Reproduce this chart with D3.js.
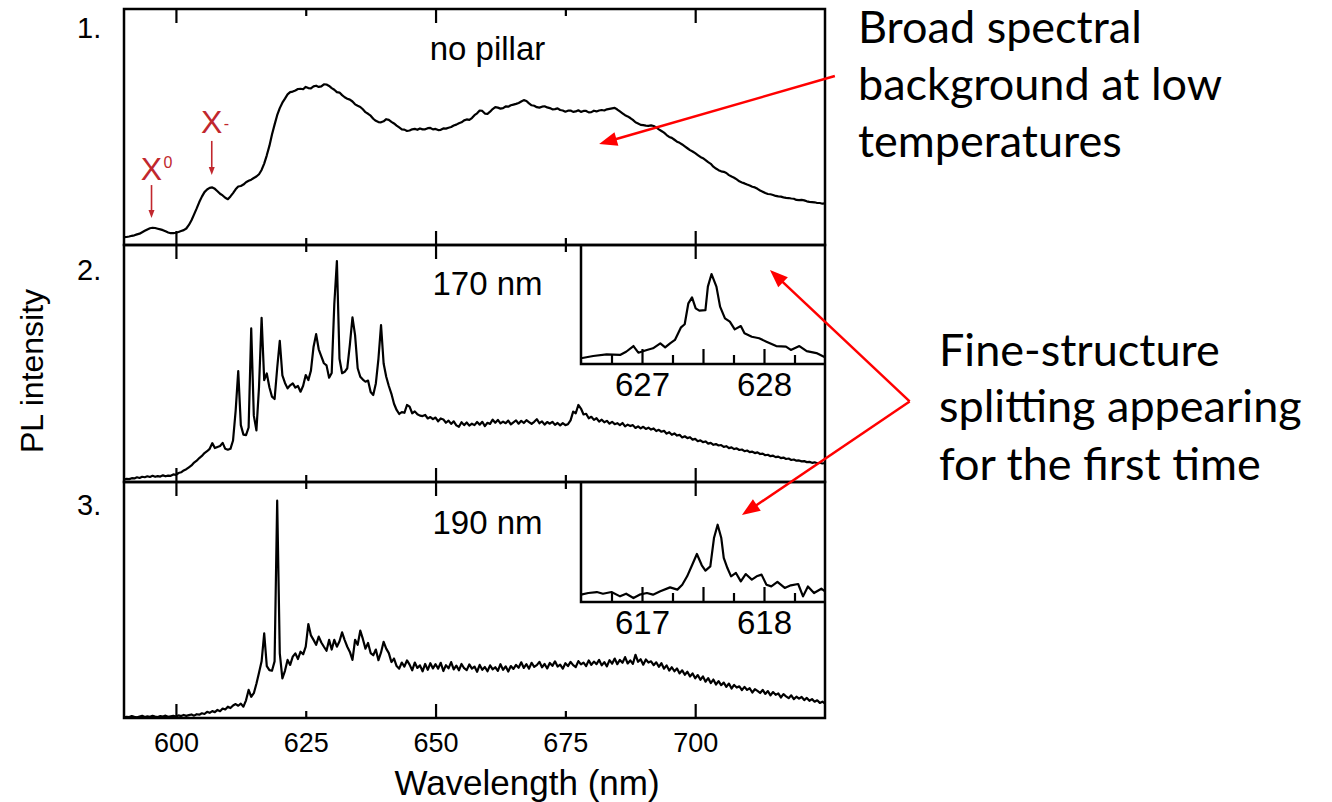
<!DOCTYPE html>
<html>
<head>
<meta charset="utf-8">
<script src="https://cdn.jsdelivr.net/npm/d3@7"></script>
<style>
  body { margin: 0; background: #fff; }
  svg { display: block; }
  .sans { font-family: "Liberation Sans", Arial, Helvetica, sans-serif; }
  .cal { font-family: Lato, "Open Sans", sans-serif; }
</style>
</head>
<body>
<svg id="chart" width="1332" height="802"></svg>
<script>
// ---------------- DATA ----------------
const panelLabels = ["1.", "2.", "3."];
const panelTitles = ["no pillar", "170 nm", "190 nm"];
const xTickLabels = [600, 625, 650, 675, 700];
const xTicksMajor = [600, 650, 700];
const xTicksMinor = [625, 675];
const wlStart = 590;
const wlEnd = 725;
const wlStep = 0.5;

// panel 1: no pillar (0.5 nm sampling, 590..725)
const pl1 = [
  3.3,3.4,3.6,3.9,4.1,4.5,4.8,5.4,6.0,6.6,
  7.1,7.3,7.2,6.9,6.6,6.3,5.8,5.3,5.0,5.0,
  5.2,5.5,5.9,6.3,7.0,8.5,10.5,13.0,15.5,18.2,
  20.5,22.4,23.5,24.2,24.4,23.8,22.8,21.7,21.0,20.0,
  19.4,20.6,22.0,23.6,24.8,25.0,25.6,26.6,27.2,27.7,
  28.4,29.0,30.0,31.8,34.5,38.0,42.0,46.8,51.0,55.0,
  58.0,60.3,62.0,63.8,64.8,65.0,65.5,66.1,66.2,66.0,
  67.0,66.5,66.4,67.2,67.5,67.0,67.2,68.1,68.0,67.4,
  66.5,65.8,64.8,64.6,63.5,62.6,62.0,61.6,60.8,59.6,
  59.0,58.5,57.5,56.3,55.6,54.8,53.5,52.6,52.1,52.0,
  52.4,53.3,53.0,52.2,51.5,50.6,49.8,49.0,48.9,48.3,
  48.5,49.0,49.2,48.8,49.4,49.0,49.0,49.5,49.6,49.0,
  49.2,48.7,48.8,49.4,49.3,49.7,50.0,50.6,51.0,51.6,
  52.0,52.8,53.2,53.0,53.8,55.0,55.8,57.0,56.8,55.7,
  55.6,56.5,57.6,58.4,58.2,57.8,58.0,58.7,58.6,59.2,
  59.5,59.8,60.2,60.8,61.4,61.0,60.0,59.2,59.0,58.4,
  58.2,58.6,58.8,58.3,58.0,57.5,57.6,57.9,57.2,57.0,
  56.5,56.9,57.0,56.4,56.6,57.1,56.4,56.8,56.8,56.2,
  56.3,56.9,56.6,57.0,57.2,57.0,57.5,57.7,57.9,58.1,
  57.4,56.6,55.8,55.0,54.5,53.8,53.0,52.0,51.5,50.9,
  50.8,50.6,50.5,50.7,50.4,49.8,49.0,48.3,47.6,46.6,
  45.8,45.4,44.6,43.8,43.3,42.6,41.8,41.0,40.2,39.6,
  38.9,38.1,37.3,36.8,36.0,35.1,34.4,33.2,32.4,31.7,
  31.2,31.0,30.5,29.6,29.0,28.5,27.8,27.0,26.5,26.1,
  25.6,25.2,24.7,24.4,23.8,23.1,22.6,22.0,21.6,21.5,
  21.2,20.8,20.6,20.5,20.2,20.0,19.9,19.7,19.6,19.1,
  19.0,19.1,18.9,18.5,18.3,18.2,18.1,17.8,17.8,17.5,
  17.6
];

// panel 2: 170 nm (0.5 nm sampling, 590..725)
const pl2 = [
  1.0,1.3,1.2,1.6,1.5,2.0,1.7,2.2,2.0,2.4,
  2.1,2.6,2.2,2.5,2.3,2.8,2.4,2.7,2.6,3.2,
  3.0,3.8,4.1,4.9,5.4,6.2,7.0,8.2,9.0,10.1,
  11.0,12.2,13.0,14.0,16.4,14.3,14.8,15.2,16.5,14.0,
  13.6,14.0,17.5,30.0,46.8,24.0,20.0,19.8,23.0,64.8,
  28.0,21.8,40.0,69.3,43.0,45.8,40.0,36.0,35.0,48.0,
  59.6,45.0,41.8,39.5,40.8,41.6,39.8,40.5,38.1,40.6,
  45.1,43.0,47.0,57.0,62.4,56.0,53.0,50.1,49.2,44.0,
  46.0,75.0,93.2,52.0,45.9,46.5,48.0,58.0,69.5,62.0,
  48.0,44.4,43.2,42.3,42.8,38.0,36.7,41.6,52.0,66.2,
  50.0,44.4,40.5,37.2,33.0,30.4,28.7,29.5,29.2,32.5,
  31.8,29.0,29.8,28.6,28.0,27.8,28.3,26.8,27.4,26.5,
  27.2,25.6,26.8,26.4,25.0,25.9,24.5,25.6,23.9,23.3,
  25.2,24.0,25.1,23.8,24.6,24.0,25.3,24.2,25.4,23.6,
  25.0,24.5,26.3,25.0,26.2,24.7,25.5,24.8,25.9,24.3,
  25.2,26.0,24.6,25.8,24.9,26.1,25.3,24.5,25.4,26.5,
  24.8,25.6,24.2,25.3,24.6,25.4,24.1,24.9,23.9,24.8,
  24.0,24.4,26.0,29.7,29.0,32.5,31.0,28.5,28.8,26.9,
  27.5,26.2,26.9,25.5,26.3,25.2,25.8,24.6,25.4,24.4,
  24.8,24.0,24.9,23.5,24.2,23.6,24.0,22.8,23.5,22.6,
  23.3,22.4,22.9,22.1,22.6,21.5,22.0,21.2,21.6,20.4,
  21.0,19.9,20.5,19.6,19.9,18.8,19.3,18.5,18.9,17.9,
  18.2,17.2,17.6,16.8,17.1,16.2,16.5,15.7,16.0,15.4,
  15.6,14.8,15.1,14.3,14.6,13.9,14.2,13.5,13.7,13.0,
  13.3,12.6,12.8,12.2,12.5,11.8,12.0,11.3,11.5,10.9,
  11.1,10.5,10.7,10.1,10.3,9.7,9.9,9.3,9.5,9.0,
  9.1,8.7,8.8,8.4,8.5,8.1,8.3,7.9,8.1,7.8,
  8.0
];

// panel 3: 190 nm (0.5 nm sampling, 590..725)
const pl3 = [
  0.3,0.5,0.4,0.8,0.5,0.3,0.6,0.9,0.4,0.7,
  0.5,0.9,0.6,0.4,0.8,0.6,1.0,0.5,0.7,0.9,
  0.6,1.1,0.8,1.3,0.9,1.2,1.5,1.0,1.6,1.4,
  2.0,1.7,2.6,2.2,2.9,2.5,3.4,2.9,4.0,3.6,
  4.8,4.2,5.3,5.9,5.2,6.1,4.8,7.5,11.9,9.0,
  10.5,14.5,19.2,24.0,35.9,22.0,20.3,20.0,24.0,92.1,
  27.4,16.8,20.0,24.6,22.5,26.0,27.4,25.0,28.1,27.0,
  30.2,39.8,35.0,33.1,31.0,34.5,32.0,30.2,28.5,33.1,
  29.0,33.1,30.2,32.5,36.3,33.0,30.2,28.0,24.6,33.1,
  31.0,37.0,33.5,29.4,31.8,27.5,26.6,29.0,24.5,27.8,
  32.3,29.4,27.5,23.7,25.2,22.0,20.9,23.5,21.8,24.4,
  22.6,20.2,23.5,21.2,22.3,19.8,22.9,20.4,23.2,21.0,
  22.8,20.9,23.4,19.9,22.4,21.0,23.7,20.6,22.2,20.2,
  22.9,21.1,20.3,22.7,20.9,21.8,19.6,22.5,20.4,21.6,
  19.8,22.3,20.6,21.5,20.0,22.8,20.4,21.9,19.7,22.0,
  20.8,22.5,21.3,23.6,21.2,22.8,20.9,23.4,21.7,22.4,
  23.8,21.5,22.9,21.0,23.3,22.1,24.0,21.8,22.6,20.9,
  23.2,22.0,23.8,22.4,21.6,24.1,22.7,23.5,22.0,24.4,
  22.5,23.9,22.8,24.6,22.3,23.7,21.9,24.5,23.0,25.2,
  22.8,24.6,23.4,25.8,23.1,24.4,22.9,26.8,23.8,24.9,
  22.6,24.8,23.5,24.0,22.4,23.6,21.7,23.2,20.9,22.3,
  20.1,21.5,19.8,21.0,18.9,20.2,18.3,19.6,17.6,18.9,
  16.8,18.2,16.2,17.6,15.4,16.9,14.8,16.3,14.2,15.6,
  13.9,15.0,13.2,14.6,12.5,14.0,12.9,13.4,11.8,13.2,
  11.9,12.6,10.8,12.2,11.5,10.6,11.9,10.2,11.4,9.6,
  11.0,9.8,10.4,8.7,10.1,9.2,8.4,9.6,8.0,9.0,
  8.2,8.9,7.6,8.5,7.3,8.0,6.9,7.5,6.4,6.9,
  6.1
];

// inset of panel 2 (626.5..628.5 nm)
const inset1Wl = [626.50,626.60,626.71,626.82,626.87,626.93,626.97,627.04,627.09,627.15,627.19,627.23,627.27,627.32,627.35,627.38,627.41,627.44,627.47,627.52,627.54,627.57,627.61,627.64,627.68,627.72,627.76,627.81,627.84,627.90,627.96,628.02,628.10,628.18,628.22,628.29,628.35,628.43,628.50];
const inset1Pl = [4.8,6.7,8.1,7.6,10.3,15.1,9.5,11.8,13.2,17.4,14.0,17.4,20.2,30.8,33.4,51.0,56.0,46.8,44.8,45.3,65.0,75.6,65.0,48.2,38.4,35.6,29.1,31.9,25.8,22.9,21.6,18.8,15.1,14.6,11.8,15.1,10.8,9.2,5.6];
const inset1TickLabels = [627, 628];
const inset1TicksMajor = [627, 627.5, 628];
const inset1TicksMinor = [626.75, 627.25, 627.75, 628.25];

// inset of panel 3 (616.5..618.5 nm)
const inset2Wl = [616.50,616.56,616.63,616.68,616.75,616.82,616.87,616.93,616.98,617.04,617.09,617.15,617.23,617.29,617.33,617.37,617.41,617.45,617.49,617.52,617.56,617.59,617.62,617.65,617.67,617.70,617.73,617.77,617.81,617.85,617.90,617.94,617.98,618.02,618.06,618.11,618.17,618.22,618.28,618.32,618.36,618.41,618.47,618.50];
const inset2Pl = [6.1,7.5,8.3,6.9,8.3,4.7,6.9,3.3,6.1,7.5,6.1,8.9,12.2,10.3,14.4,21.4,30.6,40.0,30.6,26.1,29.7,53.3,64.4,53.3,36.7,28.3,21.4,24.2,17.2,23.3,18.6,21.4,22.8,14.4,13.0,16.7,11.7,13.9,15.0,4.7,13.0,7.5,11.1,8.9];
const inset2TickLabels = [617, 618];
const inset2TicksMajor = [617, 617.5, 618];
const inset2TicksMinor = [616.75, 617.25, 617.75, 618.25];

const noteBroad = ["Broad spectral", "background at low", "temperatures"];
const noteFine = ["Fine-structure", "splitting appearing", "for the first time"];

// ---------------- LAYOUT ----------------
const svg = d3.select("#chart");
const PX0 = 124, PX1 = 825;
const panels = [
  { top: 9, bottom: 245 },
  { top: 245, bottom: 482 },
  { top: 482, bottom: 718 }
];
const x = d3.scaleLinear().domain([wlStart, wlEnd]).range([PX0, PX1]);
const ys = panels.map(p => d3.scaleLinear().domain([0, 100]).range([p.bottom, p.top]));

const grid = arr => arr.map((_, i) => wlStart + i * wlStep);
const series = [[grid(pl1), pl1], [grid(pl2), pl2], [grid(pl3), pl3]];

const RED = "#ff0000";
const DARKRED = "#c1272d";
const LW = 2.2;

function styleTicks(g, w) {
  g.select(".domain").remove();
  g.selectAll(".tick line").attr("stroke", "#000").attr("stroke-width", w);
}

// ticks for each panel (inside, top and bottom)
panels.forEach(p => {
  [[xTicksMajor, 14], [xTicksMinor, 7]].forEach(([vals, len]) => {
    svg.append("g").attr("transform", `translate(0,${p.bottom})`)
      .call(d3.axisBottom(x).tickValues(vals).tickSize(-len).tickFormat(() => ""))
      .call(g => styleTicks(g, 2.2));
    svg.append("g").attr("transform", `translate(0,${p.top})`)
      .call(d3.axisTop(x).tickValues(vals).tickSize(-len).tickFormat(() => ""))
      .call(g => styleTicks(g, 2.2));
  });
});

// curves
series.forEach(([wl, pl], i) => {
  const line = d3.line().x(d => x(d[0])).y(d => ys[i](d[1]));
  svg.append("path").datum(d3.zip(wl, pl))
    .attr("d", line).attr("fill", "none").attr("stroke", "#000")
    .attr("stroke-width", LW).attr("stroke-linejoin", "round");
});

// frames
panels.forEach(p => {
  svg.append("rect").attr("x", PX0).attr("y", p.top)
    .attr("width", PX1 - PX0).attr("height", p.bottom - p.top)
    .attr("fill", "none").attr("stroke", "#000").attr("stroke-width", 2.5);
});

// x-axis labels
svg.append("g").attr("transform", `translate(0,${panels[2].bottom})`)
  .call(d3.axisBottom(x).tickValues(xTickLabels).tickSize(0).tickPadding(15))
  .call(g => { g.select(".domain").remove(); })
  .attr("font-family", "Liberation Sans, Arial, sans-serif")
  .attr("font-size", 27);

svg.append("text").attr("class", "sans")
  .attr("x", 527).attr("y", 795).attr("text-anchor", "middle")
  .attr("font-size", 35).text("Wavelength (nm)");

svg.append("text").attr("class", "sans")
  .attr("transform", "translate(43,371) rotate(-90)")
  .attr("text-anchor", "middle").attr("font-size", 32).text("PL intensity");

// panel numbers and titles
const labelBase = [38, 280, 515];
panelLabels.forEach((t, i) => {
  svg.append("text").attr("class", "sans").attr("x", 77).attr("y", labelBase[i])
    .attr("font-size", 29).text(t);
});
const titleBase = [60, 295, 534];
panelTitles.forEach((t, i) => {
  svg.append("text").attr("class", "sans").attr("x", x(660)).attr("y", titleBase[i])
    .attr("text-anchor", "middle").attr("font-size", 33).text(t);
});

// insets
const insets = [
  { panel: 1, dom: [626.5, 628.5], bottom: 364, wl: inset1Wl, pl: inset1Pl,
    labels: inset1TickLabels, major: inset1TicksMajor, minor: inset1TicksMinor },
  { panel: 2, dom: [616.5, 618.5], bottom: 602, wl: inset2Wl, pl: inset2Pl,
    labels: inset2TickLabels, major: inset2TicksMajor, minor: inset2TicksMinor }
];
const INSET_LEFT = 581;
insets.forEach(ins => {
  const top = panels[ins.panel].top;
  const xi = d3.scaleLinear().domain(ins.dom).range([INSET_LEFT, PX1]);
  const yi = d3.scaleLinear().domain([0, 100]).range([ins.bottom, top]);
  [[ins.major, 15], [ins.minor, 9]].forEach(([vals, len]) => {
    svg.append("g").attr("transform", `translate(0,${ins.bottom})`)
      .call(d3.axisBottom(xi).tickValues(vals).tickSize(-len).tickFormat(() => ""))
      .call(g => styleTicks(g, 2.2));
  });
  svg.append("g").attr("transform", `translate(0,${ins.bottom})`)
    .call(d3.axisBottom(xi).tickValues(ins.labels).tickSize(0).tickPadding(9).tickFormat(d3.format("d")))
    .call(g => g.select(".domain").remove())
    .attr("font-family", "Liberation Sans, Arial, sans-serif")
    .attr("font-size", 33);
  const line = d3.line().x(d => xi(d[0])).y(d => yi(d[1]));
  svg.append("path").datum(d3.zip(ins.wl, ins.pl))
    .attr("d", line).attr("fill", "none").attr("stroke", "#000")
    .attr("stroke-width", LW).attr("stroke-linejoin", "round");
  svg.append("path")
    .attr("d", `M${INSET_LEFT},${top}V${ins.bottom}H${PX1}`)
    .attr("fill", "none").attr("stroke", "#000").attr("stroke-width", 2.5);
});

// arrows
function arrow(x1, y1, x2, y2, color, width, headLen, headW) {
  const dx = x2 - x1, dy = y2 - y1, L = Math.hypot(dx, dy);
  const ux = dx / L, uy = dy / L;
  const bx = x2 - ux * headLen, by = y2 - uy * headLen;
  svg.append("line").attr("x1", x1).attr("y1", y1)
    .attr("x2", bx + ux * 1).attr("y2", by + uy * 1)
    .attr("stroke", color).attr("stroke-width", width);
  svg.append("polygon").attr("points", [
    [x2, y2],
    [bx - uy * headW / 2, by + ux * headW / 2],
    [bx + uy * headW / 2, by - ux * headW / 2]
  ].map(p => p.join(",")).join(" ")).attr("fill", color);
}

// annotation anchors in data coordinates: [wavelength, intensity, panel]
const broadTail = [726.9, 71.6, 0], broadTip = [681.5, 42.8, 0];
const bracketVertex = [741.3, 34.0, 1];
const fineTip2 = [714.4, 89.5, 1], fineTip3 = [709.0, 86.0, 2];
const P = a => [x(a[0]), ys[a[2]](a[1])];

arrow(...P(broadTail), ...P(broadTip), RED, 2.5, 18, 14);
arrow(...P(bracketVertex), ...P(fineTip2), RED, 2.5, 18, 14);
arrow(...P(bracketVertex), ...P(fineTip3), RED, 2.5, 18, 14);

// exciton labels
const x0Arrow = [595.3, 25.4, 11.4], xmArrow = [606.9, 44.1, 29.7];
arrow(x(x0Arrow[0]), ys[0](x0Arrow[1]), x(x0Arrow[0]), ys[0](x0Arrow[2]), DARKRED, 1.6, 8, 6);
arrow(x(xmArrow[0]), ys[0](xmArrow[1]), x(xmArrow[0]), ys[0](xmArrow[2]), DARKRED, 1.6, 8, 6);
svg.append("text").attr("class", "sans").attr("x", x(595.3)).attr("y", 180)
  .attr("text-anchor", "middle").attr("font-size", 32).attr("fill", DARKRED).text("X");
svg.append("text").attr("class", "sans").attr("x", x(595.3) + 12).attr("y", 168)
  .attr("font-size", 16).attr("fill", DARKRED).text("0");
svg.append("text").attr("class", "sans").attr("x", x(606.9)).attr("y", 133)
  .attr("text-anchor", "middle").attr("font-size", 32).attr("fill", DARKRED).text("X");
svg.append("text").attr("class", "sans").attr("x", x(606.9) + 12).attr("y", 129)
  .attr("font-size", 16).attr("fill", DARKRED).text("-");

// side notes
const broadBase = [43, 100, 157];
noteBroad.forEach((t, i) => {
  svg.append("text").attr("class", "cal").attr("x", 858).attr("y", broadBase[i])
    .attr("font-size", 45).text(t);
});
const fineBase = [366, 422, 480];
noteFine.forEach((t, i) => {
  svg.append("text").attr("class", "cal").attr("x", 939).attr("y", fineBase[i])
    .attr("font-size", 45).text(t);
});
</script>
</body>
</html>
